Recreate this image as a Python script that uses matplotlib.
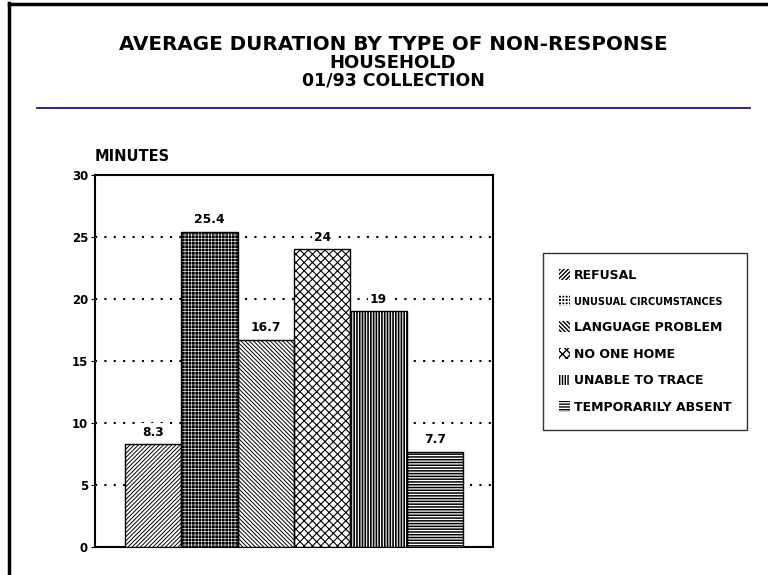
import matplotlib
matplotlib.use("Agg")
import matplotlib.pyplot as plt
from matplotlib.lines import Line2D
from matplotlib.patches import Patch

categories = ["REFUSAL", "UNUSUAL CIRCUMSTANCES", "LANGUAGE PROBLEM",
              "NO ONE HOME", "UNABLE TO TRACE", "TEMPORARILY ABSENT"]
values = [8.3, 25.4, 16.7, 24, 19, 7.7]
value_labels = ["8.3", "25.4", "16.7", "24", "19", "7.7"]
yticks = [0, 5, 10, 15, 20, 25, 30]
hatches = ["////////", "+++++", "\\\\\\\\\\\\\\\\", "xxxx", "||||||", "------"]
facecolors = ["white", "black", "white", "white", "white", "white"]
hatchcolors = ["black", "white", "black", "black", "black", "black"]
hatch_lws = [0.7, 0.4, 0.7, 0.8, 1.2, 1.1]

plt.rcParams['font.family'] = ['DejaVu Sans']
plt.rcParams['font.weight'] = 'bold'

W, H = 768, 575
fig = plt.figure(figsize=(W / 100, H / 100), dpi=100)

# Outer frame (top and left lines)
fig.add_artist(Line2D([9 / W, 9 / W], [0, 1 - 3 / H], color="black", lw=2.5))
fig.add_artist(Line2D([9 / W, 1], [1 - 4 / H, 1 - 4 / H], color="black", lw=2.5))

# Titles
fig.text(393 / W, 1 - 44 / H, "AVERAGE DURATION BY TYPE OF NON-RESPONSE",
         ha="center", va="center", fontsize=14.3, fontweight="bold")
fig.text(393 / W, 1 - 63 / H, "HOUSEHOLD", ha="center", va="center",
         fontsize=13, fontweight="bold")
fig.text(393 / W, 1 - 81 / H, "01/93 COLLECTION", ha="center", va="center",
         fontsize=12.5, fontweight="bold")
fig.add_artist(Line2D([37 / W, 750 / W], [1 - 108 / H, 1 - 108 / H],
                      color="#00008B", lw=1.2))


def make_patch_hatch(p, i):
    p.set_hatch(hatches[i])
    try:
        p.set_hatch_linewidth(hatch_lws[i])
    except Exception:
        pass
    try:
        p.set_hatchcolor(hatchcolors[i])
    except Exception:
        p.set_edgecolor(hatchcolors[i])


# Axes
ax_l, ax_r, ax_t, ax_b = 95, 493, 175, 547
ax = fig.add_axes([ax_l / W, 1 - ax_b / H, (ax_r - ax_l) / W, (ax_b - ax_t) / H])
x = list(range(len(values)))
bars = ax.bar(x, values, width=1.0, color=facecolors, edgecolor=hatchcolors,
              linewidth=0, zorder=3)
for i, b in enumerate(bars):
    make_patch_hatch(b, i)
# black outlines
ax.bar(x, values, width=1.0, fill=False, edgecolor="black", linewidth=1.0, zorder=4)

for xi, v, lab in zip(x, values, value_labels):
    ax.text(xi, v + 0.45, lab, ha="center", va="bottom", fontsize=8.8,
            fontweight="bold", zorder=5,
            bbox=dict(facecolor="white", edgecolor="none", pad=1.5))

ax.set_ylim(0, 30)
ax.set_xlim(-1.03, 6.03)
ax.set_yticks(yticks)
ax.set_yticklabels([str(t) for t in yticks], fontsize=8.5, fontweight="bold")
ax.set_xticks([])
ax.tick_params(axis="y", length=3, width=0.8, pad=2)
for s in ax.spines.values():
    s.set_linewidth(1.5)
for t in yticks[1:-1]:
    ax.axhline(t, color="black", ls=(0, (1, 3.5)), lw=1.5, zorder=1)

fig.text(ax_l / W, 1 - 157 / H, "MINUTES", ha="left", va="center",
         fontsize=10.5, fontweight="bold")

# Legend
handles = []
for i, c in enumerate(categories):
    p = Patch(facecolor=facecolors[i], edgecolor=hatchcolors[i], linewidth=0)
    make_patch_hatch(p, i)
    handles.append(p)
lg = fig.legend(handles, categories, loc="upper left",
                bbox_to_anchor=(543 / W, 1 - 253 / H), borderaxespad=0,
                frameon=True, fancybox=False,
                edgecolor="black", fontsize=9, handlelength=0.9, handleheight=0.95,
                handletextpad=0.3, labelspacing=1.1, borderpad=1.25)
lg.get_frame().set_linewidth(1.0)
for t in lg.get_texts():
    t.set_fontweight("bold")
lg.get_texts()[1].set_fontsize(7)

fig.savefig("out.png", dpi=100)
